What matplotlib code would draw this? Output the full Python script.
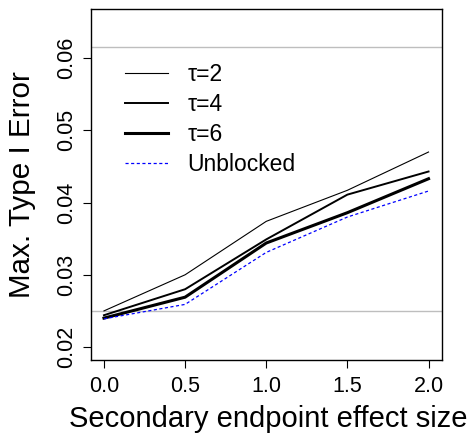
import numpy as np
import matplotlib
matplotlib.use("Agg")
import matplotlib.pyplot as plt

plt.rcParams['font.family'] = ['Liberation Sans', 'DejaVu Sans']

effect = [0.0, 0.5, 1.0, 1.5, 2.0]
tau2 = [0.0250, 0.0300, 0.0374, 0.0417, 0.0470]
tau4 = [0.0244, 0.0280, 0.0349, 0.0411, 0.0443]
tau6 = [0.0240, 0.0269, 0.0344, 0.0386, 0.0433]
unblocked = [0.0239, 0.0259, 0.0331, 0.0380, 0.0416]
ref_lines = [0.025, 0.0615]

fig = plt.figure(figsize=(4.68, 4.36), dpi=100)
ax = fig.add_axes([0.1944, 0.1743, 0.749, 0.805])

for h in ref_lines:
    ax.axhline(h, color='#BEBEBE', lw=1.0)

ax.plot(effect, tau2, color='black', lw=0.8, label='\u03c4=2')
ax.plot(effect, tau4, color='black', lw=1.4, label='\u03c4=4')
ax.plot(effect, tau6, color='black', lw=2.2, label='\u03c4=6')
ax.plot(effect, unblocked, color='blue', lw=0.9, ls=(0, (2.5, 2)), label='Unblocked')

ax.set_xlim(-0.08, 2.08)
ax.set_ylim(0.0182, 0.0668)
ax.set_xticks([0.0, 0.5, 1.0, 1.5, 2.0])
ax.set_xticklabels(['0.0', '0.5', '1.0', '1.5', '2.0'])
ax.set_yticks([0.02, 0.03, 0.04, 0.05, 0.06])
ax.set_yticklabels(['0.02', '0.03', '0.04', '0.05', '0.06'], rotation=90, va='center')
ax.tick_params(direction='out', length=6, width=0.8, labelsize=15.5)
ax.tick_params(axis='x', pad=5.5)
ax.tick_params(axis='y', pad=4)
for s in ax.spines.values():
    s.set_linewidth(1.0)

ax.set_xlabel('Secondary endpoint effect size', fontsize=21)
ax.set_ylabel('Max. Type I Error', fontsize=21.3)
ax.xaxis.set_label_coords(0.505, -0.127)
ax.yaxis.set_label_coords(-0.157, 0.5)

ax.legend(loc='upper left', bbox_to_anchor=(0.07, 0.872), frameon=False, fontsize=16.5,
          handlelength=1.9, handletextpad=0.84, labelspacing=0.3, borderaxespad=0)

fig.savefig('out.png', dpi=100)
